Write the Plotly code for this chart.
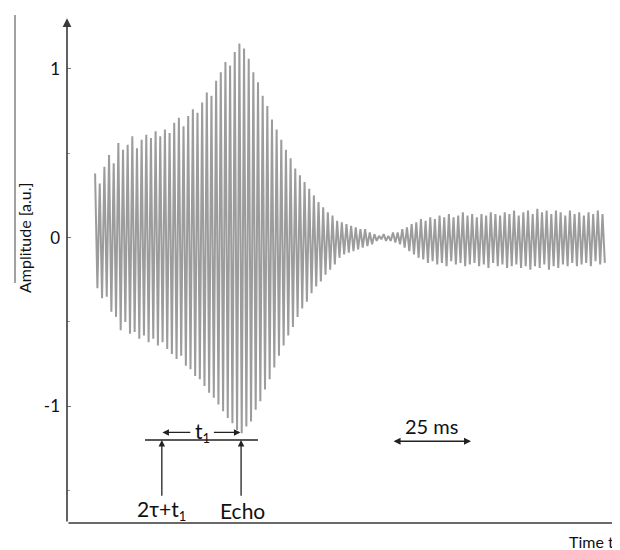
import numpy as np
import plotly.graph_objects as go

# Peak values of each oscillation cycle, a.u.
upper = [0.38, 0.32, 0.42, 0.49, 0.44, 0.56, 0.52, 0.55, 0.60, 0.53,
         0.58, 0.61, 0.59, 0.63, 0.60, 0.64, 0.62, 0.68, 0.71, 0.66,
         0.72, 0.76, 0.74, 0.80, 0.86, 0.84, 0.93, 0.98, 1.04, 1.02,
         1.10, 1.15, 1.12, 1.06, 0.98, 0.92, 0.84, 0.78, 0.70, 0.64,
         0.58, 0.52, 0.47, 0.41, 0.37, 0.33, 0.29, 0.25, 0.21, 0.18,
         0.15, 0.13, 0.10, 0.09, 0.08, 0.07, 0.06, 0.05, 0.05, 0.03,
         0.02, 0.01, 0.02, 0.01, 0.03, 0.03, 0.05, 0.06, 0.08, 0.09,
         0.11, 0.10, 0.12, 0.11, 0.13, 0.12, 0.14, 0.12, 0.13, 0.15,
         0.13, 0.14, 0.12, 0.14, 0.13, 0.15, 0.14, 0.13, 0.15, 0.14,
         0.16, 0.13, 0.15, 0.16, 0.14, 0.17, 0.15, 0.16, 0.14, 0.16,
         0.15, 0.13, 0.16, 0.14, 0.15, 0.13, 0.15, 0.14, 0.16, 0.14]
lower = [-0.30, -0.36, -0.35, -0.44, -0.47, -0.55, -0.50, -0.57, -0.56, -0.60,
         -0.58, -0.62, -0.60, -0.64, -0.62, -0.66, -0.69, -0.72, -0.70, -0.76,
         -0.78, -0.82, -0.84, -0.88, -0.92, -0.95, -0.99, -1.03, -1.07, -1.10,
         -1.14, -1.16, -1.12, -1.09, -1.02, -0.97, -0.90, -0.84, -0.77, -0.70,
         -0.64, -0.58, -0.53, -0.47, -0.42, -0.38, -0.33, -0.29, -0.26, -0.22,
         -0.19, -0.16, -0.12, -0.10, -0.09, -0.08, -0.07, -0.06, -0.05, -0.04,
         -0.02, -0.01, -0.02, -0.02, -0.03, -0.04, -0.06, -0.08, -0.10, -0.12,
         -0.13, -0.15, -0.14, -0.16, -0.15, -0.17, -0.14, -0.16, -0.15, -0.17,
         -0.16, -0.15, -0.17, -0.16, -0.18, -0.15, -0.17, -0.16, -0.18, -0.17,
         -0.16, -0.18, -0.17, -0.19, -0.17, -0.18, -0.16, -0.19, -0.17, -0.18,
         -0.16, -0.17, -0.15, -0.17, -0.16, -0.15, -0.17, -0.14, -0.16, -0.15]

t_start = 9.0      # ms, first sample
t_end = 172.4      # ms, last sample

y_ticks = [-1, 0, 1]
y_ticklabels = ["-1", "0", "1"]

# sample times on a regular grid, alternating max/min
n = len(upper) + len(lower)
t = np.linspace(t_start, t_end, n)
amp = np.empty(n)
amp[0::2] = upper
amp[1::2] = lower

FONT = "Lato"
AX = "#3a3a3a"
SUB = "<sub><span style='font-size:13px'>1</span></sub>"

fig = go.Figure()
fig.add_trace(go.Scatter(x=t, y=amp, mode="lines",
                         line=dict(color="#9c9c9c", width=2.0),
                         hoverinfo="skip", showlegend=False))

XR = [0, 176.3]
YR = [-1.692, 1.349]

# page body has an 8px margin: figure is placed at (8, 8)
fig.update_layout(
    width=612, height=542,
    margin=dict(l=59, r=3, t=2, b=27),
    paper_bgcolor="white", plot_bgcolor="white",
    font=dict(family=FONT, color="#111"),
    xaxis=dict(range=XR, showgrid=False, zeroline=False, showline=False,
               showticklabels=False, ticks=""),
    yaxis=dict(range=YR, showgrid=False, zeroline=False, showline=False,
               tickvals=y_ticks, ticktext=y_ticklabels, ticks="inside",
               ticklen=4, tickcolor="#777", tickwidth=1, ticklabelstandoff=6,
               tickfont=dict(size=17, family=FONT, color="#111"),
               minor=dict(dtick=0.5, ticks="inside", ticklen=3, tickcolor="#999")),
)

def arrow(x0, y0, x1, y1, head=2, side="end", width=1.5, size=1.0, color=AX):
    fig.add_annotation(x=x1, y=y1, ax=x0, ay=y0, xref="x", yref="y",
                       axref="x", ayref="y", text="", showarrow=True,
                       arrowhead=head, arrowside=side, arrowwidth=width,
                       arrowsize=size, arrowcolor=color, startarrowhead=head,
                       startarrowsize=size)

# axes with arrows
arrow(0, YR[0], 0, 1.30, head=2, width=1.6, size=1.1)
arrow(0, YR[0], 178.5, YR[0], head=2, width=1.6, size=1.1)

# t1 construction
fig.add_shape(type="line", x0=25.0, x1=61.2, y0=-1.20, y1=-1.20,
              line=dict(color="#222", width=1.4))
arrow(30.4, -1.54, 30.4, -1.20, head=2, width=1.3, size=1.0, color="#222")
arrow(55.8, -1.54, 55.8, -1.20, head=2, width=1.3, size=1.0, color="#222")
arrow(40.0, -1.155, 30.6, -1.155, head=2, width=1.3, size=1.0, color="#222")
arrow(46.6, -1.155, 55.6, -1.155, head=2, width=1.3, size=1.0, color="#222")
fig.add_annotation(x=43.4, y=-1.15, text="t" + SUB, showarrow=False,
                   xanchor="center", yanchor="middle",
                   font=dict(size=21, family=FONT, color="#111"))
fig.add_annotation(x=30.4, y=-1.615, text="2τ+t" + SUB, showarrow=False,
                   xanchor="center", yanchor="middle",
                   font=dict(size=21, family=FONT, color="#111"))
fig.add_annotation(x=56.2, y=-1.615, text="Echo", showarrow=False,
                   xanchor="center", yanchor="middle",
                   font=dict(size=21, family=FONT, color="#111"))

# 25 ms scale bar (double-headed)
arrow(104.2, -1.207, 129.5, -1.207, head=2, side="end+start", width=1.4,
      size=1.0, color="#222")
fig.add_annotation(x=116.8, y=-1.115, text="25 ms", showarrow=False,
                   xanchor="center", yanchor="middle",
                   font=dict(size=20, family=FONT, color="#111"))

# axis titles
fig.add_annotation(xref="paper", yref="paper", x=(24 - 67) / 550, y=(523 - 238) / 513,
                   text="Amplitude [a.u.]", textangle=-90, showarrow=False,
                   xanchor="center", yanchor="middle",
                   font=dict(size=16, family=FONT, color="#111"))
fig.add_annotation(xref="paper", yref="paper", x=(616 - 67) / 550, y=(523 - 541) / 513,
                   text="Time t", showarrow=False,
                   xanchor="right", yanchor="middle",
                   font=dict(size=16, family=FONT, color="#111"))
fig.add_shape(type="line", xref="paper", yref="paper",
              x0=(15 - 67) / 550, x1=(15 - 67) / 550,
              y0=(523 - 15) / 513, y1=(523 - 283) / 513,
              line=dict(color="#444", width=1))

fig.write_html("out.html")
